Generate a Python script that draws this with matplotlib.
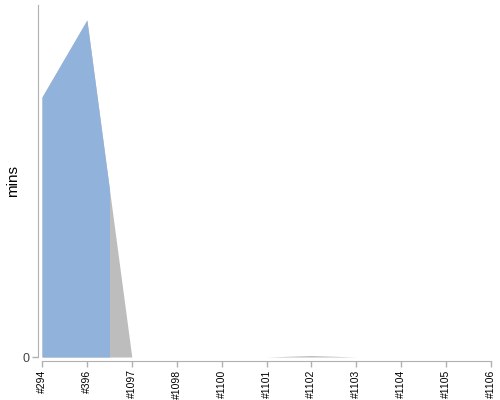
import matplotlib
matplotlib.use("Agg")
import matplotlib.pyplot as plt
from matplotlib.patches import Rectangle
import numpy as np

plt.rcParams['font.family'] = ['Liberation Sans', 'DejaVu Sans']

# build time trend
builds = ["#294", "#396", "#1097", "#1098", "#1100", "#1101", "#1102", "#1103", "#1104", "#1105", "#1106"]
durations = [26.0, 33.7, 0.0, 0.0, 0.0, 0.0, 0.15, 0.0, 0.0, 0.0, 0.0]
# builds up to this index finished ok (blue), the rest grey
last_ok = 1

blue = "#91b3db"
grey = "#bdbdbd"
axis_grey = "#b0b0b0"

x = np.arange(len(builds))
y = np.array(durations)

fig = plt.figure(figsize=(5, 4), dpi=100)
ax = fig.add_axes([0.084, 0.1075, 0.898, 0.88])

ax.fill_between(x, y, 0, color=grey, linewidth=0)
ok_part = ax.fill_between(x, y, 0, color=blue, linewidth=0)
# colour switches half way between builds
clip = Rectangle((-1, -1), last_ok + 1.5, 100, transform=ax.transData)
ok_part.set_clip_path(clip)

ax.set_xlim(0, len(builds) - 1)
ax.set_ylim(0, 35.2)

for side in ["top", "right"]:
    ax.spines[side].set_visible(False)
for side in ["left", "bottom"]:
    ax.spines[side].set_color(axis_grey)
    ax.spines[side].set_position(("outward", 3))
ax.tick_params(axis="both", colors=axis_grey, length=4, width=1)

ax.set_xticks(x)
ax.set_xticklabels(builds, fontsize=7.5)
ax.tick_params(axis="x", labelrotation=90, labelcolor="black", pad=2)
ax.set_yticks([0])
ax.set_yticklabels(["0"], fontsize=9)
ax.tick_params(axis="y", labelcolor="#444444", pad=2)
ax.set_ylabel("mins", fontsize=11, labelpad=2)

fig.savefig("out.png", dpi=100)
